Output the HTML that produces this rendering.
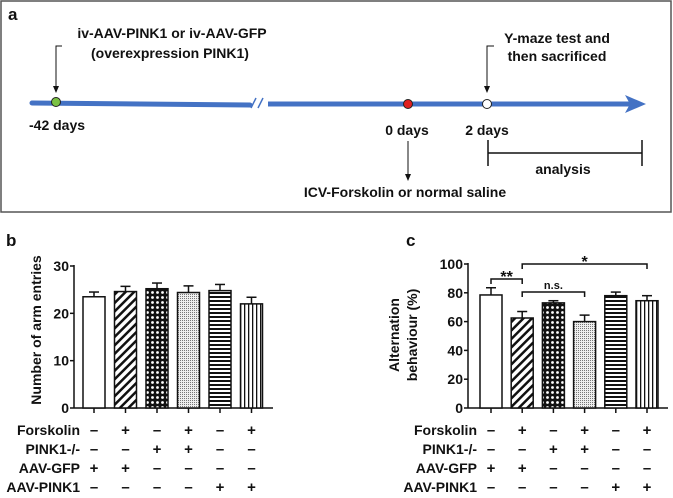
<!DOCTYPE html>
<html><head><meta charset="utf-8"><style>
body{margin:0;background:#fff;width:673px;height:493px;overflow:hidden}
svg text{font-family:"Liberation Sans",Arial,sans-serif;font-weight:bold;fill:#111}
</style></head><body>
<svg id="fig" width="673" height="493" viewBox="0 0 673 493" xmlns="http://www.w3.org/2000/svg">
<defs>
<pattern id="pDiag" patternUnits="userSpaceOnUse" width="6" height="6" patternTransform="rotate(45)"><rect width="6" height="6" fill="#fff"/><rect width="2.5" height="6" fill="#111"/></pattern>
<pattern id="pCross" patternUnits="userSpaceOnUse" width="5" height="5"><rect width="5" height="5" fill="#111"/><circle cx="2.5" cy="2.5" r="1.4" fill="#fff"/></pattern>
<pattern id="pDot" patternUnits="userSpaceOnUse" width="2" height="2"><rect width="2" height="2" fill="#eee"/><rect width="1" height="1" fill="#777"/></pattern>
<pattern id="pHor" patternUnits="userSpaceOnUse" width="4" height="4"><rect width="4" height="4" fill="#fff"/><rect width="4" height="2" fill="#111"/></pattern>
<pattern id="pVer" patternUnits="userSpaceOnUse" width="4" height="4"><rect width="4" height="4" fill="#fff"/><rect width="1.3" height="4" fill="#111"/></pattern>
</defs>
<g>
<rect x="1" y="1" width="670" height="211" fill="none" stroke="#555" stroke-width="1.5"/>
<text x="8" y="20" font-size="17">a</text>
<line x1="32" y1="103" x2="250" y2="105" stroke="#4472c4" stroke-width="5" stroke-linecap="round"/>
<line x1="251" y1="108" x2="256" y2="98" stroke="#4472c4" stroke-width="1.5"/>
<line x1="258" y1="108" x2="263" y2="98" stroke="#4472c4" stroke-width="1.5"/>
<line x1="268" y1="104" x2="636" y2="104" stroke="#4472c4" stroke-width="5"/>
<path d="M625,95 L646,104 L625,113 L630,104 Z" fill="#4472c4"/>
<circle cx="56" cy="102" r="4.5" fill="#7ac143" stroke="#222"/>
<circle cx="408" cy="104" r="4.5" fill="#e02020" stroke="#222"/>
<circle cx="487" cy="104" r="4.5" fill="#fff" stroke="#222"/>
<text x="172" y="38" font-size="14" text-anchor="middle">iv-AAV-PINK1 or iv-AAV-GFP</text>
<text x="170" y="58" font-size="14" text-anchor="middle">(overexpression PINK1)</text>
<path d="M62,46 L56,46 L56,88" fill="none" stroke="#111" stroke-width="1"/>
<path d="M53,86 L56,93 L59,86 Z" fill="#111"/>
<text x="29" y="130" font-size="14">-42 days</text>
<text x="407" y="135" font-size="14" text-anchor="middle">0 days</text>
<text x="487" y="135" font-size="14" text-anchor="middle">2 days</text>
<text x="557" y="43" font-size="14" text-anchor="middle">Y-maze test and</text>
<text x="557" y="61" font-size="14" text-anchor="middle">then sacrificed</text>
<path d="M494,46 L487,46 L487,88" fill="none" stroke="#111" stroke-width="1"/>
<path d="M484,86 L487,93 L490,86 Z" fill="#111"/>
<line x1="408" y1="141" x2="408" y2="176" stroke="#111"/>
<path d="M405,174 L408,181 L411,174 Z" fill="#111"/>
<text x="405" y="197" font-size="14" text-anchor="middle">ICV-Forskolin or normal saline</text>
<g stroke="#111" stroke-width="1.5"><line x1="488" y1="140" x2="488" y2="166"/><line x1="642" y1="140" x2="642" y2="166"/><line x1="488" y1="153" x2="642" y2="153"/></g>
<text x="563" y="174" font-size="14" text-anchor="middle">analysis</text>
</g>
<text x="6" y="246" font-size="17">b</text>
<text x="406" y="246" font-size="17">c</text>
<g id="chartB"></g>
<g id="chartC"></g>
</svg>
<script>
const NS='http://www.w3.org/2000/svg';
const groups=['AAV-GFP','Forskolin+AAV-GFP','PINK1-/-','Forskolin+PINK1-/-','AAV-PINK1','Forskolin+AAV-PINK1'];
const armValues=[23.5,24.6,25.2,24.4,24.8,22.0];
const armErrors=[1.0,1.1,1.2,1.4,1.3,1.4];
const altValues=[78.5,62.5,73.0,60.0,78.0,74.5];
const altErrors=[5.0,4.5,1.5,4.5,2.5,3.5];
const armTicks=[0,10,20,30];
const altTicks=[0,20,40,60,80,100];
const rowNames=['Forskolin','PINK1-/-','AAV-GFP','AAV-PINK1'];
const rowSigns=[['-','+','-','+','-','+'],['-','-','+','+','-','-'],['+','+','-','-','-','-'],['-','-','-','-','+','+']];
const fills=['#fff','url(#pDiag)','url(#pCross)','url(#pDot)','url(#pHor)','url(#pVer)'];
function mk(p,tag,a){const e=document.createElementNS(NS,tag);for(const k in a)e.setAttribute(k,a[k]);p.appendChild(e);return e;}
function chart(g,cfg){
  const y=v=>cfg.y0-(v-cfg.min)/(cfg.max-cfg.min)*(cfg.y0-cfg.yTop);
  const x=i=>cfg.x0+cfg.first+i*cfg.step;
  mk(g,'line',{x1:cfg.x0,y1:y(cfg.max)-1,x2:cfg.x0,y2:cfg.y0,stroke:'#111','stroke-width':1.5});
  mk(g,'line',{x1:cfg.x0,y1:cfg.y0,x2:cfg.xEnd,y2:cfg.y0,stroke:'#111','stroke-width':1.5});
  cfg.ticks.forEach(t=>{
    mk(g,'line',{x1:cfg.x0-4,y1:y(t),x2:cfg.x0,y2:y(t),stroke:'#111','stroke-width':1.5});
    const tx=mk(g,'text',{x:cfg.x0-5,y:y(t)+5,'font-size':14,'text-anchor':'end'});tx.textContent=t;
    
    
  });
  cfg.values.forEach((v,i)=>{
    const cx=x(i),e=cfg.errors[i];
    mk(g,'line',{x1:cx,y1:y(v+e),x2:cx,y2:y(v),stroke:'#111','stroke-width':1.5});
    mk(g,'line',{x1:cx-5,y1:y(v+e),x2:cx+5,y2:y(v+e),stroke:'#111','stroke-width':1.5});
    const r=mk(g,'rect',{x:cx-cfg.bw/2,y:y(v),width:cfg.bw,height:cfg.y0-y(v),fill:fills[i],stroke:'#111','stroke-width':1.5});
    
    
    mk(g,'line',{x1:cx,y1:cfg.y0,x2:cx,y2:cfg.y0+5,stroke:'#111','stroke-width':1.5});
  });
  rowNames.forEach((n,r)=>{
    const ly=cfg.rowY[r];
    const t=mk(g,'text',{x:cfg.labelX,y:ly,'font-size':14,'text-anchor':'end'});t.textContent=n;
    
    
    rowSigns[r].forEach((s,i)=>{const st=mk(g,'text',{x:x(i),y:ly,'font-size':15,'text-anchor':'middle'});st.textContent=s==='-'?'–':'+';});
  });
  const yt=mk(g,'text',{transform:`translate(${cfg.titleX},${cfg.titleY}) rotate(-90)`,'font-size':14,'text-anchor':'middle'});
  
  
  cfg.title.forEach((ln,k)=>{const ts=mk(yt,'tspan',{x:0,dy:k?18:0});ts.textContent=ln;});
  return {x,y};
}
chart(document.getElementById('chartB'),{x0:74,xEnd:273,y0:408,yTop:266,min:0,max:30,first:20,step:31.5,bw:22,values:armValues,errors:armErrors,ticks:armTicks,rowY:[435,454,473,492],labelX:80,title:['Number of arm entries'],titleX:41,titleY:330});
const c=chart(document.getElementById('chartC'),{x0:468,xEnd:668,y0:408,yTop:264,min:0,max:100,first:23,step:31.2,bw:22,values:altValues,errors:altErrors,ticks:altTicks,rowY:[435,454,473,492],labelX:477,title:['Alternation','behaviour (%)'],titleX:399,titleY:335});
const gC=document.getElementById('chartC');
function sig(i1,i2,yy,label){
  const x1=c.x(i1),x2=c.x(i2);
  mk(gC,'path',{d:`M${x1},${yy+5} L${x1},${yy} L${x2},${yy} L${x2},${yy+5}`,fill:'none',stroke:'#111','stroke-width':1.5});
  const t=mk(gC,'text',{x:(x1+x2)/2,y:yy-(label==='n.s.'?3:-3),'font-size':label==='n.s.'?11:16,'text-anchor':'middle'});t.textContent=label;
  
  
}
sig(0,1,279,'**');sig(1,3,292,'n.s.');sig(1,5,264,'*');
</script>
</body></html>
